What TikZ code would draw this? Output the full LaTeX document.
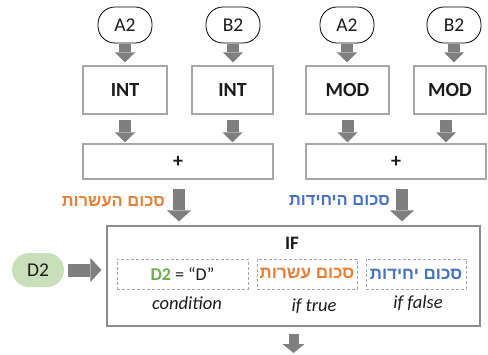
\documentclass[tikz,border=0pt]{standalone}
\usepackage{fontspec}
\setmainfont{Carlito}
\newfontfamily\hebfont[Script=Hebrew]{Liberation Sans}
\TeXXeTstate=1
\usetikzlibrary{arrows.meta}
\definecolor{boxgray}{HTML}{A6A6A6}
\definecolor{ifgray}{HTML}{8C8C8C}
\definecolor{arrgray}{HTML}{7F7F7F}
\definecolor{dgreen}{HTML}{70AD47}
\definecolor{lgreen}{HTML}{C9DFB9}
\definecolor{orng}{HTML}{ED7D31}
\definecolor{blu}{HTML}{4472C4}
\definecolor{txt}{HTML}{1A1A1A}
\begin{document}
\begin{tikzpicture}[x=1pt,y=-1pt,
  oval/.style={draw=black, line width=0.8pt, rounded corners=17pt, minimum width=54pt, minimum height=36pt, inner sep=0pt, text=txt, font=\fontsize{19.5}{22}\selectfont},
  fnbox/.style={draw=boxgray, line width=1.2pt, minimum height=48pt, inner sep=0pt, text=txt, font=\fontsize{20}{22}\selectfont\bfseries},
  plusbox/.style={draw=boxgray, line width=1.2pt, minimum height=35pt, inner sep=0pt, text=txt, font=\fontsize{20}{22}\selectfont\bfseries},
  dbox/.style={draw=boxgray, line width=1pt, dash pattern=on 3pt off 2pt, minimum width=100pt, minimum height=30pt, inner sep=0pt},
  lab/.style={inner sep=0pt, text=txt, font=\fontsize{18.5}{22}\selectfont\itshape},
  heb/.style={inner sep=0pt, font=\fontsize{16.5}{20}\selectfont\hebfont\bfseries},
  blk/.style={draw=arrgray, line width=12pt, -{Triangle[length=10pt,width=20pt,line width=0pt]}},
  bigblk/.style={draw=arrgray, line width=12pt, -{Triangle[length=11pt,width=24pt,line width=0pt]}}
]
\useasboundingbox (0,0) rectangle (488,354);
% top ovals
\node[oval] (a2l) at (125,25) {A2};
\node[oval] (b2l) at (233,25) {B2};
\node[oval] (a2r) at (347,25) {A2};
\node[oval] (b2r) at (454,25) {B2};
% function boxes
\node[fnbox, minimum width=84pt] (int1) at (125,90) {INT};
\node[fnbox, minimum width=81pt] (int2) at (232.5,90) {INT};
\node[fnbox, minimum width=83pt] (mod1) at (347.5,90) {MOD};
\node[fnbox, minimum width=72pt] (mod2) at (450,90) {MOD};
% plus boxes
\node[plusbox, minimum width=190pt] (plus1) at (178,161.5) {+};
\node[plusbox, minimum width=180pt] (plus2) at (396,161.5) {+};
% IF box
\node[draw=ifgray, line width=1.2pt, minimum width=373pt, minimum height=100pt, inner sep=0pt] (ifbox) at (293.5,276) {};
\node[inner sep=0pt, text=txt, font=\fontsize{19}{22}\selectfont\bfseries] (iftxt) at (292,243) {IF};
\node[dbox, minimum width=131pt] (cond) at (182.5,274) {};
\node[dbox] (tru) at (307,274) {};
\node[dbox] (fls) at (416,274) {};
\node[inner sep=0pt, text=txt, font=\fontsize{18}{22}\selectfont] (condtxt) at (cond.center) {\textcolor{dgreen}{\bfseries D2} = “D”};
\node[heb, text=orng, font=\fontsize{17}{20}\selectfont\hebfont\bfseries] (trutxt) at (tru.center) {\beginR סכום עשרות\endR};
\node[heb, text=blu, font=\fontsize{17}{20}\selectfont\hebfont\bfseries] (flstxt) at (fls.center) {\beginR סכום יחידות\endR};
\node[lab] (condlab) at (187,303) {condition};
\node[lab] (trulab) at (314,306) {if true};
\node[lab] (flslab) at (418,303) {if false};
% D2 oval
\node[fill=lgreen, rounded corners=17pt, minimum width=52pt, minimum height=34pt, inner sep=0pt, text=txt, font=\fontsize{19.5}{22}\selectfont] (d2) at (38,270) {D2};
% hebrew labels
\node[heb, text=orng, anchor=east] (tens) at (165,202) {\beginR סכום העשרות\endR};
\node[heb, text=blu, anchor=east] (units) at (390,201) {\beginR סכום היחידות\endR};
% arrows
\draw[blk, shorten <=1pt, shorten >=3pt] (a2l) -- (int1);
\draw[blk, shorten <=1pt, shorten >=3pt] (b2l.south) -- (b2l.south |- int2.north);
\draw[blk, shorten <=1pt, shorten >=3pt] (a2r.south) -- (a2r.south |- mod1.north);
\draw[blk, shorten <=1pt, shorten >=3pt] (b2r.south) -- (b2r.south |- mod2.north);
\draw[blk, shorten <=5pt, shorten >=1pt] (int1.south) -- (int1.south |- plus1.north);
\draw[blk, shorten <=5pt, shorten >=1pt] (int2.south) -- (int2.south |- plus1.north);
\draw[blk, shorten <=5pt, shorten >=1pt] (mod1.south) -- (mod1.south |- plus2.north);
\draw[blk, shorten <=5pt, shorten >=1pt] ([xshift=-4pt]mod2.south) -- ([xshift=-4pt]mod2.south |- plus2.north);
\draw[bigblk, shorten <=9pt, shorten >=4pt] ([xshift=1pt]plus1.south) -- ([xshift=1pt]plus1.south |- ifbox.north);
\draw[bigblk, shorten <=9pt, shorten >=4pt] ([xshift=6pt]plus2.south) -- ([xshift=6pt]plus2.south |- ifbox.north);
\draw[bigblk, line width=13pt, shorten <=4pt, shorten >=5pt] (d2.east) -- (d2.east -| ifbox.west);
\coordinate (out) at (293.5,353);
\draw[blk, line width=10pt, -{Triangle[length=9pt,width=22pt,line width=0pt]}, shorten <=7pt] (ifbox.south) -- (out);
\end{tikzpicture}
\end{document}
